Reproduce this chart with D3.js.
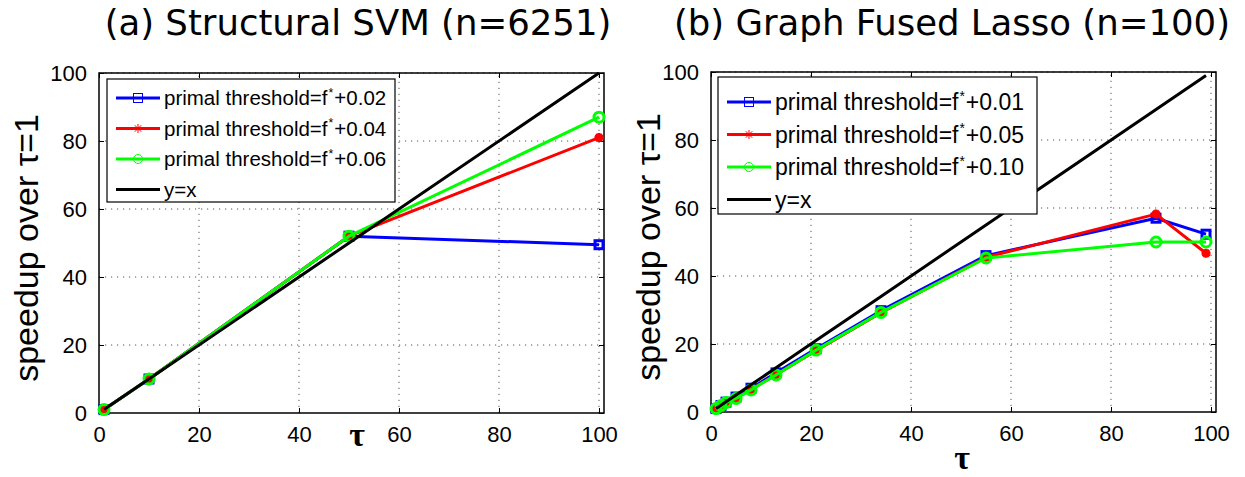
<!DOCTYPE html>
<html>
<head>
<meta charset="utf-8">
<script src="https://cdn.jsdelivr.net/npm/d3@7"></script>
<style>
  html, body { margin: 0; padding: 0; background: #fff; }
  svg { display: block; }
</style>
</head>
<body>
<svg id="chart" width="1245" height="477"></svg>
<script>
// ---- data ----
const leftTau = [1, 10, 50, 100];
const leftBlue = [1, 10, 52, 49.5];
const leftRed = [1, 10, 52, 81];
const leftGreen = [1, 10, 52, 87];

const rightTau = [1, 2, 3, 5, 8, 13, 21, 34, 55, 89, 99];
const rightBlue = [1, 1.9, 2.9, 4.4, 7, 11.5, 18.6, 29.8, 46, 57, 52.3];
const rightRed = [1, 1.8, 2.7, 4.1, 6.6, 11, 18, 29.2, 45.5, 58.2, 46.7];
const rightGreen = [1, 1.9, 2.8, 4, 6.5, 10.9, 18.2, 29.3, 45.3, 50, 50];

const leftThresholds = ["0.02", "0.04", "0.06"];
const rightThresholds = ["0.01", "0.05", "0.10"];

const xTicks = [0, 20, 40, 60, 80, 100];
const yTicks = [0, 20, 40, 60, 80, 100];

const COLORS = { blue: "#0000ff", red: "#ff0000", green: "#00ff00", black: "#000000" };

const svg = d3.select("#chart");

// ---- marker shapes ----
function drawMarker(g, kind, cx, cy, color, sw, r) {
  if (kind === "square") {
    g.append("rect").attr("x", cx - r).attr("y", cy - r)
      .attr("width", 2 * r).attr("height", 2 * r)
      .attr("fill", "none").attr("stroke", color).attr("stroke-width", sw);
  } else if (kind === "circle") {
    g.append("circle").attr("cx", cx).attr("cy", cy).attr("r", r)
      .attr("fill", "none").attr("stroke", color).attr("stroke-width", sw);
  } else if (kind === "star") {
    const d = r * 0.72;
    const p = `M${cx - r},${cy}L${cx + r},${cy}M${cx},${cy - r}L${cx},${cy + r}` +
              `M${cx - d},${cy - d}L${cx + d},${cy + d}M${cx - d},${cy + d}L${cx + d},${cy - d}`;
    g.append("path").attr("d", p).attr("fill", "none")
      .attr("stroke", color).attr("stroke-width", sw);
  }
}

function panel(opts) {
  const { x0, x1, y0, y1, tau, series, thresholds, title, titleX, xlabY, legend, legFont } = opts;
  const x = d3.scaleLinear().domain([0, 101]).range([x0, x1]);
  const y = d3.scaleLinear().domain([0, 100]).range([y0, y1]);
  const g = svg.append("g");

  // dotted grid
  const grid = g.append("g").attr("stroke", "#555").attr("stroke-width", 1)
    .attr("stroke-dasharray", "1.2,4.8");
  xTicks.filter(v => v > 0).forEach(v => {
    grid.append("line").attr("x1", x(v)).attr("x2", x(v)).attr("y1", y0).attr("y2", y1);
  });
  yTicks.filter(v => v > 0).forEach(v => {
    grid.append("line").attr("x1", x0).attr("x2", x1).attr("y1", y(v)).attr("y2", y(v));
  });

  // axes with inward ticks
  const xAxis = d3.axisBottom(x).tickValues(xTicks).tickSizeInner(-5).tickSizeOuter(0).tickPadding(13);
  const yAxis = d3.axisLeft(y).tickValues(yTicks).tickSizeInner(-5).tickSizeOuter(0).tickPadding(12);
  const gx = g.append("g").attr("transform", `translate(0,${y0})`).call(xAxis);
  const gy = g.append("g").attr("transform", `translate(${x0},0)`).call(yAxis);
  const gxt = g.append("g").attr("transform", `translate(0,${y1})`)
    .call(d3.axisTop(x).tickValues(xTicks).tickSizeInner(-5).tickSizeOuter(0).tickFormat(""));
  const gyr = g.append("g").attr("transform", `translate(${x1},0)`)
    .call(d3.axisRight(y).tickValues(yTicks).tickSizeInner(-5).tickSizeOuter(0).tickFormat(""));
  [gx, gy, gxt, gyr].forEach(a => {
    a.select(".domain").remove();
    a.selectAll(".tick line").attr("stroke", "#000").attr("stroke-width", 1);
    a.selectAll("text").attr("font-family", "Liberation Sans, Arial, sans-serif")
      .attr("font-size", 22).attr("fill", "#000");
  });

  // box
  g.append("rect").attr("x", x0).attr("y", y1).attr("width", x1 - x0).attr("height", y0 - y1)
    .attr("fill", "none").attr("stroke", "#000").attr("stroke-width", 1.5);

  // series lines and markers
  const line = d3.line().x(d => x(d[0])).y(d => y(d[1]));
  series.forEach(s => {
    const pts = tau.map((t, i) => [t, s.values[i]]);
    g.append("path").attr("d", line(pts)).attr("fill", "none")
      .attr("stroke", s.color).attr("stroke-width", 3).attr("stroke-linejoin", "round");
    if (s.marker) {
      pts.forEach(p => drawMarker(g, s.marker, x(p[0]), y(p[1]), s.color, 3, s.size));
    }
  });

  // title
  svg.append("text").attr("x", titleX).attr("y", 35).attr("text-anchor", "middle")
    .attr("font-family", "DejaVu Sans, sans-serif").attr("font-size", 35.5).attr("fill", "#000")
    .text(title);

  // axis labels
  svg.append("text").attr("x", opts.tauX).attr("y", xlabY).attr("text-anchor", "middle")
    .attr("font-family", "Liberation Serif, Times New Roman, serif").attr("font-size", 34)
    .attr("font-weight", "bold").attr("fill", "#000").text("τ");
  svg.append("text")
    .attr("transform", `translate(${opts.ylabX},${(y0 + y1) / 2 + 5}) rotate(-90)`)
    .attr("text-anchor", "middle").attr("dominant-baseline", "central")
    .attr("font-family", "Liberation Sans, Arial, sans-serif").attr("font-size", 34)
    .attr("fill", "#000").text("speedup over τ=1");

  // legend
  const L = legend;
  const lg = svg.append("g");
  lg.append("rect").attr("x", L.x).attr("y", L.y).attr("width", L.w).attr("height", L.h)
    .attr("fill", "#fff").attr("stroke", "#000").attr("stroke-width", 1.2);
  const entries = series.map((s, i) => ({
    color: s.color, marker: s.marker,
    label: i < thresholds.length ? thresholds[i] : null
  }));
  const lift = legFont * 0.42;
  entries.forEach((e, i) => {
    const cy = L.y + L.first + i * L.step;
    lg.append("line").attr("x1", L.x + 9).attr("x2", L.x + 9 + 44).attr("y1", cy).attr("y2", cy)
      .attr("stroke", e.color).attr("stroke-width", 3);
    if (e.marker) drawMarker(lg, e.marker, L.x + 31, cy, e.color, 1, 4.5);
    const t = lg.append("text").attr("x", L.x + 57).attr("y", cy + legFont * 0.36)
      .attr("font-family", "Liberation Sans, Arial, sans-serif").attr("font-size", legFont)
      .attr("fill", "#000");
    if (e.label) {
      t.append("tspan").text("primal threshold=f");
      t.append("tspan").attr("dx", 1).attr("dy", -lift).attr("font-size", legFont * 0.6).text("*");
      t.append("tspan").attr("dx", 1).attr("dy", lift).text("+" + e.label);
    } else {
      t.text("y=x");
    }
  });
}

panel({
  x0: 99, x1: 604, y0: 413, y1: 73,
  tau: leftTau,
  series: [
    { values: leftBlue, color: COLORS.blue, marker: "square", size: 4 },
    { values: leftRed, color: COLORS.red, marker: "star", size: 4.5 },
    { values: leftGreen, color: COLORS.green, marker: "circle", size: 5 },
    { values: leftTau, color: COLORS.black, marker: null }
  ],
  thresholds: leftThresholds,
  title: "(a) Structural SVM (n=6251)", titleX: 358,
  tauX: 357, xlabY: 446, ylabX: 26,
  legend: { x: 107, y: 79, w: 288, h: 123, first: 19, step: 30.5 },
  legFont: 20.5
});

panel({
  x0: 711, x1: 1216, y0: 412, y1: 72,
  tau: rightTau,
  series: [
    { values: rightBlue, color: COLORS.blue, marker: "square", size: 4 },
    { values: rightRed, color: COLORS.red, marker: "star", size: 4.5 },
    { values: rightGreen, color: COLORS.green, marker: "circle", size: 5 },
    { values: rightTau, color: COLORS.black, marker: null }
  ],
  thresholds: rightThresholds,
  title: "(b) Graph Fused Lasso (n=100)", titleX: 952,
  tauX: 962, xlabY: 469, ylabX: 648,
  legend: { x: 718, y: 77, w: 319, h: 137, first: 25, step: 32.5 },
  legFont: 23
});
</script>
</body>
</html>
